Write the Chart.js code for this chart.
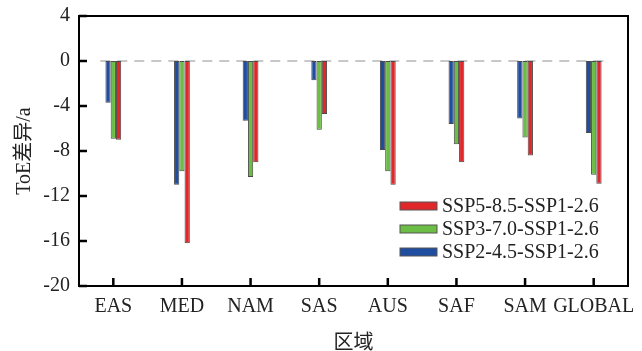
<!DOCTYPE html>
<html>
<head>
<meta charset="utf-8">
<script src="https://cdn.jsdelivr.net/npm/chart.js@4/dist/chart.umd.min.js"></script>
<style>
  html, body { margin: 0; padding: 0; background: #fff; }
  #wrap { width: 642px; height: 351px; }
</style>
</head>
<body>
<div id="wrap"><canvas id="toeChart" width="642" height="351"></canvas></div>
<script>
  // regions and ToE differences (years)
  const regions = ["EAS", "MED", "NAM", "SAS", "AUS", "SAF", "SAM", "GLOBAL"];
  const ssp245 = [-3.7, -11.0, -5.3, -1.7, -7.9, -5.6, -5.1, -6.4];
  const ssp370 = [-6.9, -9.8, -10.3, -6.1, -9.8, -7.4, -6.8, -10.1];
  const ssp585 = [-7.0, -16.2, -9.0, -4.7, -11.0, -9.0, -8.4, -10.9];
  const yTicks = [4, 0, -4, -8, -12, -16, -20];

  const serif = "'Liberation Serif', 'Times New Roman', 'Noto Sans CJK SC', serif";

  // frame, inward ticks, zero line, legend inside plot
  const decor = {
    id: "decor",
    beforeDatasetsDraw(chart) {
      const { ctx, scales } = chart;
      const y0 = scales.y.getPixelForValue(0);
      const x0 = scales.x.getPixelForValue(0) - 13;
      const x1 = scales.x.getPixelForValue(regions.length - 1) + 12;
      ctx.save();
      ctx.strokeStyle = "#c8c8c8";
      ctx.lineWidth = 2;
      ctx.setLineDash([10, 7]);
      ctx.beginPath();
      ctx.moveTo(x0, y0);
      ctx.lineTo(x1, y0);
      ctx.stroke();
      ctx.restore();
    },
    afterDraw(chart) {
      const { ctx, chartArea: a, scales } = chart;
      ctx.save();
      ctx.strokeStyle = "#000";
      ctx.lineWidth = 2;
      ctx.strokeRect(a.left, a.top, a.right - a.left, a.bottom - a.top);
      ctx.lineWidth = 2.5;
      ctx.beginPath();
      regions.forEach((r, i) => {
        const x = scales.x.getPixelForValue(i);
        ctx.moveTo(x, a.bottom);
        ctx.lineTo(x, a.bottom - 8);
      });
      yTicks.forEach(v => {
        const y = scales.y.getPixelForValue(v);
        ctx.moveTo(a.left, y);
        ctx.lineTo(a.left + 8, y);
      });
      ctx.stroke();

      // legend, reversed order, lower right
      const ds = chart.data.datasets.slice().reverse();
      const lx = 400, ly = 206;
      ctx.font = "20px " + serif;
      ctx.textBaseline = "middle";
      ds.forEach((d, i) => {
        const y = ly + i * 23;
        ctx.fillStyle = d.backgroundColor;
        ctx.fillRect(lx, y - 4, 37, 8);
        ctx.lineWidth = 1;
        ctx.strokeStyle = "#555";
        ctx.strokeRect(lx, y - 4, 37, 8);
        ctx.fillStyle = "#222";
        ctx.fillText(d.label, lx + 42, y + 1);
      });
      ctx.restore();
    }
  };

  const bar = (label, data, color) => ({
    label, data,
    backgroundColor: color,
    borderColor: "#4a4a4a",
    borderWidth: 1,
    borderSkipped: false
  });

  new Chart(document.getElementById("toeChart"), {
    type: "bar",
    data: {
      labels: regions,
      datasets: [
        bar("SSP2-4.5-SSP1-2.6", ssp245, "#1f4ea0"),
        bar("SSP3-7.0-SSP1-2.6", ssp370, "#6cbd45"),
        bar("SSP5-8.5-SSP1-2.6", ssp585, "#e0282b")
      ]
    },
    options: {
      responsive: false,
      animation: false,
      layout: { padding: { left: 8, right: 14, top: 16, bottom: 0 } },
      datasets: { bar: { categoryPercentage: 0.23, barPercentage: 1 } },
      plugins: { legend: { display: false }, tooltip: { enabled: false } },
      scales: {
        x: {
          grid: { display: false, drawTicks: false },
          border: { display: false },
          ticks: { color: "#222", font: { family: serif, size: 20 }, padding: 9, maxRotation: 0, autoSkip: false },
          title: { display: true, text: "区域", color: "#222", font: { family: serif, size: 20, lineHeight: 0.7 }, padding: { top: 0, bottom: 0 } },
          afterFit(s) { s.height = 65; s.paddingLeft = 0; s.paddingRight = 0; }
        },
        y: {
          min: -20, max: 4,
          grid: { display: false, drawTicks: false },
          border: { display: false },
          afterBuildTicks(s) { s.ticks = yTicks.map(v => ({ value: v })); },
          ticks: { color: "#222", font: { family: serif, size: 20 }, padding: 9 },
          title: { display: true, text: "ToE差异/a", color: "#222", font: { family: serif, size: 20, lineHeight: 1 }, padding: { top: 7, bottom: 0 } },
          afterFit(s) { s.width = 71; s.paddingTop = 0; s.paddingBottom = 0; }
        }
      }
    },
    plugins: [decor]
  });
</script>
</body>
</html>
